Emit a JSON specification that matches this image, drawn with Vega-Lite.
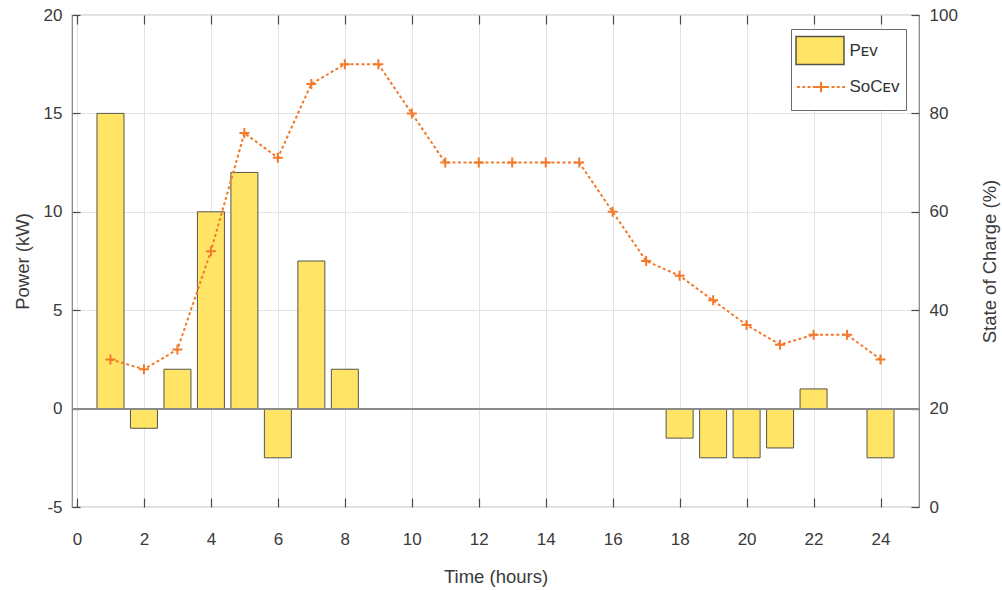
{
  "$schema": "https://vega.github.io/schema/vega-lite/v6.json",
  "width": 847,
  "height": 492,
  "autosize": "none",
  "padding": {"left": 72, "top": 15, "right": 83, "bottom": 83},
  "background": "white",
  "config": {
    "font": "Liberation Sans",
    "view": {"stroke": "#808080", "strokeWidth": 1.2},
    "axis": {
      "domain": false,
      "labelFont": "Liberation Sans",
      "labelFontSize": 17,
      "labelColor": "#3a3a3a",
      "labelExpr": "replace(datum.label, '−', '-')",
      "titleFont": "Liberation Sans",
      "titleFontSize": 18.5,
      "titleFontWeight": "normal",
      "titleColor": "#3a3a3a",
      "tickColor": "#4a4a4a",
      "tickWidth": 1.2,
      "gridColor": "#e3e3e3",
      "gridWidth": 1
    }
  },
  "data": {
    "values": [
      {"hour": 1, "power": 15, "soc": 30},
      {"hour": 2, "power": -1, "soc": 28},
      {"hour": 3, "power": 2, "soc": 32},
      {"hour": 4, "power": 10, "soc": 52},
      {"hour": 5, "power": 12, "soc": 76},
      {"hour": 6, "power": -2.5, "soc": 71},
      {"hour": 7, "power": 7.5, "soc": 86},
      {"hour": 8, "power": 2, "soc": 90},
      {"hour": 9, "power": 0, "soc": 90},
      {"hour": 10, "power": 0, "soc": 80},
      {"hour": 11, "power": 0, "soc": 70},
      {"hour": 12, "power": 0, "soc": 70},
      {"hour": 13, "power": 0, "soc": 70},
      {"hour": 14, "power": 0, "soc": 70},
      {"hour": 15, "power": 0, "soc": 70},
      {"hour": 16, "power": 0, "soc": 60},
      {"hour": 17, "power": 0, "soc": 50},
      {"hour": 18, "power": -1.5, "soc": 47},
      {"hour": 19, "power": -2.5, "soc": 42},
      {"hour": 20, "power": -2.5, "soc": 37},
      {"hour": 21, "power": -2, "soc": 33},
      {"hour": 22, "power": 1, "soc": 35},
      {"hour": 23, "power": 0, "soc": 35},
      {"hour": 24, "power": -2.5, "soc": 30}
    ]
  },
  "layer": [
    {
      "layer": [
        {
          "mark": {"type": "bar", "size": 27, "strokeWidth": 1, "opacity": 1},
          "encoding": {
            "x": {
              "field": "hour", "type": "quantitative",
              "scale": {"domain": [0, 25], "nice": false, "zero": false},
              "axis": {
                "orient": "bottom", "title": "Time (hours)",
                "values": [0, 2, 4, 6, 8, 10, 12, 14, 16, 18, 20, 22, 24],
                "grid": true, "tickSize": -9, "labelPadding": 33, "titlePadding": 20
              }
            },
            "y": {
              "field": "power", "type": "quantitative",
              "scale": {"domain": [-5, 20], "nice": false},
              "axis": {
                "orient": "left", "title": "Power (kW)",
                "values": [-5, 0, 5, 10, 15, 20],
                "grid": true, "tickSize": -8, "labelPadding": 18, "titlePadding": 11
              }
            },
            "fill": {
              "datum": "Pᴇᴠ",
              "scale": {"domain": ["Pᴇᴠ", "SoCᴇᴠ"], "range": ["#FFE466", "transparent"]},
              "legend": {
                "orient": "none", "legendX": 719, "legendY": 14, "zindex": 0,
                "title": null,
                "symbolType": "M-1.714,-1H1.714V1H-1.714Z",
                "symbolSize": 784,
                "symbolOffset": 7.5,
                "labelFontSize": 17,
                "labelColor": "#333333",
                "labelOffset": 14.5,
                "strokeColor": "#6a6a6a",
                "fillColor": "white",
                "padding": 6.5,
                "rowPadding": 2
              }
            },
            "stroke": {
              "datum": "Pᴇᴠ",
              "scale": {"domain": ["Pᴇᴠ", "SoCᴇᴠ"], "range": ["#55554a", "transparent"]},
              "legend": {
                "orient": "none", "legendX": 719, "legendY": 14, "zindex": 0,
                "title": null,
                "symbolType": "M-1.714,-1H1.714V1H-1.714Z",
                "symbolSize": 784,
                "symbolOffset": 7.5,
                "labelFontSize": 17,
                "labelColor": "#333333",
                "labelOffset": 14.5,
                "strokeColor": "#6a6a6a",
                "fillColor": "white",
                "padding": 6.5,
                "rowPadding": 2
              }
            }
          }
        },
        {
          "mark": {"type": "rule", "color": "#8a8a8a", "strokeWidth": 1.2},
          "encoding": {"y": {"datum": 0}}
        }
      ]
    },
    {
      "layer": [
        {
          "mark": {"type": "line", "color": "#F37A2B", "strokeDash": [3, 2.5], "strokeWidth": 2},
          "encoding": {
            "x": {
              "field": "hour", "type": "quantitative",
              "axis": {
                "orient": "top", "title": null, "labels": false, "grid": false,
                "values": [0, 2, 4, 6, 8, 10, 12, 14, 16, 18, 20, 22, 24],
                "tickSize": -9
              }
            },
            "y": {
              "field": "soc", "type": "quantitative",
              "scale": {"domain": [0, 100], "nice": false},
              "axis": {
                "orient": "right", "title": "State of Charge (%)",
                "values": [0, 20, 40, 60, 80, 100],
                "grid": false, "tickSize": -8, "labelPadding": 18,
                "titlePadding": 42, "titleAngle": 270
              }
            }
          }
        },
        {
          "mark": {"type": "point", "shape": "M-1,0H1M0,-1V1", "filled": false, "color": "#F37A2B", "size": 100, "strokeWidth": 2},
          "encoding": {
            "x": {"field": "hour", "type": "quantitative"},
            "y": {"field": "soc", "type": "quantitative"},
            "opacity": {
              "datum": "SoCᴇᴠ",
              "scale": {"domain": ["SoCᴇᴠ"], "range": [1]},
              "legend": {
                "orient": "none", "legendX": 724, "legendY": 47, "zindex": 1,
                "title": null,
                "symbolType": "M-1,0H-0.88M-0.78,0H-0.66M-0.56,0H-0.44M-0.34,0H-0.22M0.22,0H0.34M0.44,0H0.56M0.66,0H0.78M0.88,0H1M-0.22,0H0.22M0,-0.22V0.22",
                "symbolSize": 2304,
                "symbolStrokeColor": "#F37A2B",
                "symbolStrokeWidth": 2,
                "symbolFillColor": "transparent",
                "labelExpr": "''",
                "padding": 0
              }
            }
          }
        }
      ]
    }
  ],
  "resolve": {
    "scale": {"y": "independent"},
    "axis": {"x": "independent", "y": "independent"}
  }
}
